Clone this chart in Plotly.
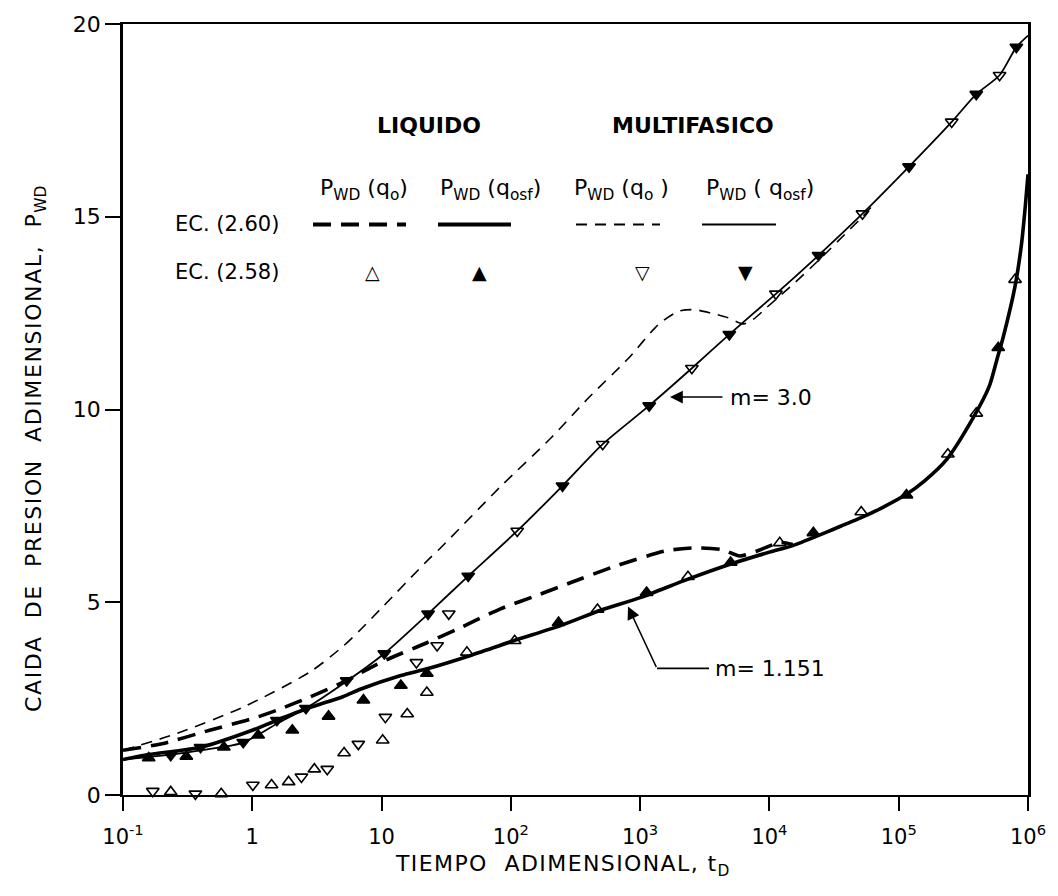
import plotly.graph_objects as go

# ---------------- data ----------------
# Curves, EC.(2.60)
liq_qo_t = [0.1, 0.2, 0.468, 1.0, 1.55, 2.82, 5.01, 10, 22.4, 40.7, 83.2, 166, 275,
            661, 1622, 2754, 4365, 5888, 8318, 12020, 15140]
liq_qo_p = [1.16, 1.33, 1.68, 1.98, 2.2, 2.55, 2.92, 3.45, 3.95, 4.34, 4.83, 5.2, 5.48,
            5.95, 6.34, 6.41, 6.36, 6.2, 6.35, 6.55, 6.5]

liq_qosf_t = [0.1, 0.158, 0.398, 1.0, 1.55, 2.69, 5.01, 6.92, 14.1, 22.9, 46.8, 105, 245,
              501, 1000, 2344, 4898, 10000, 15140, 31620, 50120, 74130, 114800, 158500,
              234400, 371500, 501200, 575400, 645700, 794300, 891300, 955000, 1000000]
liq_qosf_p = [0.92, 1.05, 1.24, 1.68, 1.94, 2.25, 2.55, 2.75, 3.1, 3.28, 3.6, 4.0, 4.4,
              4.8, 5.12, 5.6, 5.98, 6.3, 6.47, 6.9, 7.18, 7.45, 7.8, 8.15,
              8.7, 9.75, 10.6, 11.3, 11.9, 13.2, 14.3, 15.3, 16.1]

multi_qo_t = [0.1, 0.263, 0.851, 2.82, 5.01, 6.92, 10, 22.9, 28.8, 83.2, 204, 398,
              813, 1380, 1995, 2630, 3548, 4786, 6310, 7586, 9550, 15850, 24550, 39810,
              52480, 63100]
multi_qo_p = [1.16, 1.6, 2.28, 3.2, 3.85, 4.3, 4.85, 6.1, 6.42, 8.0, 9.26, 10.3,
              11.33, 12.2, 12.55, 12.59, 12.5, 12.38, 12.22, 12.35, 12.65, 13.3, 13.9, 14.6,
              15.0, 15.3]

multi_qosf_t = [0.1, 0.234, 0.398, 0.851, 1.55, 2.60, 5.37, 10.5, 22.9, 46.8, 112, 251, 513,
                1175, 2512, 4898, 11220, 23990, 52480, 120200, 257000, 398100, 602600,
                812800, 1000000]
multi_qosf_p = [0.92, 1.05, 1.16, 1.36, 1.85, 2.25, 2.95, 3.67, 4.7, 5.68, 6.85, 8.02, 9.1,
                10.1, 11.07, 11.95, 13.0, 14.0, 15.08, 16.3, 17.46, 18.18, 18.67,
                19.4, 19.7]

# Points, EC.(2.58)
liq_qo_mk_t = [0.234, 0.575, 1.41, 1.91, 3.02, 5.13, 10.2, 15.8, 22.4, 45.7, 107, 468,
               2344, 12020, 51290, 239900, 398100, 794300]
liq_qo_mk_p = [0.08, 0.03, 0.26, 0.34, 0.67, 1.09, 1.42, 2.1, 2.66, 3.7, 4.0, 4.81,
               5.66, 6.54, 7.34, 8.84, 9.9, 13.37]

liq_qosf_mk_t = [0.158, 0.309, 0.603, 1.11, 2.04, 3.89, 7.24, 14.1, 22.4, 234, 1122, 5012,
                 21880, 114800, 588800]
liq_qosf_mk_p = [0.96, 1.0, 1.24, 1.55, 1.68, 2.04, 2.46, 2.84, 3.15, 4.47, 5.25, 6.03,
                 6.8, 7.78, 11.6]

multi_qo_mk_t = [0.170, 0.363, 1.01, 2.40, 3.80, 6.61, 10.7, 18.6, 26.9, 33.1, 112, 513,
                 2512, 11220, 52480, 257000, 602600]
multi_qo_mk_p = [0.1, 0.03, 0.26, 0.47, 0.67, 1.32, 2.02, 3.44, 3.88, 4.7, 6.85, 9.1,
                 11.07, 13.0, 15.08, 17.46, 18.67]

multi_qosf_mk_t = [0.234, 0.398, 0.851, 1.55, 2.60, 5.37, 10.5, 22.9, 46.8, 251, 1175, 4898,
                   23990, 120200, 398100, 812800]
multi_qosf_mk_p = [1.03, 1.24, 1.37, 1.94, 2.25, 2.97, 3.67, 4.7, 5.68, 8.02, 10.1, 11.95,
                   14.0, 16.3, 18.18, 19.4]

x_tickvals = [0.1, 1, 10, 100, 1000, 10000, 100000, 1000000]
x_ticktext = ["10<sup>-1</sup>", "1", "10", "10<sup>2</sup>", "10<sup>3</sup>",
              "10<sup>4</sup>", "10<sup>5</sup>", "10<sup>6</sup>"]
y_tickvals = [0, 5, 10, 15, 20]
y_ticktext = ["0", "5", "10", "15", "20"]

# ---------------- figure ----------------
W, H = 1058, 896
L, R, T, B = 123, 30, 22, 101
PW, PH = W - L - R, H - T - B
FONT = "DejaVu Sans, Liberation Sans, sans-serif"


def px(x):
    return (x - L) / PW


def py(y):
    return (H - B - y) / PH


fig = go.Figure()

line_specs = [
    (liq_qo_t, liq_qo_p, 3.6, "18px,10px"),
    (liq_qosf_t, liq_qosf_p, 3.6, "solid"),
    (multi_qo_t, multi_qo_p, 1.6, "11px,8px"),
    (multi_qosf_t, multi_qosf_p, 1.8, "solid"),
]
for tx, py_, w, d in line_specs:
    fig.add_trace(go.Scatter(x=tx, y=py_, mode="lines",
                             line=dict(color="black", width=w, dash=d,
                                       shape="spline", smoothing=0.7),
                             hoverinfo="skip", showlegend=False))

mk_specs = [
    (liq_qo_mk_t, liq_qo_mk_p, "triangle-up-open"),
    (liq_qosf_mk_t, liq_qosf_mk_p, "triangle-up"),
    (multi_qo_mk_t, multi_qo_mk_p, "triangle-down-open"),
    (multi_qosf_mk_t, multi_qosf_mk_p, "triangle-down"),
]
for tx, py_, sym in mk_specs:
    fig.add_trace(go.Scatter(x=tx, y=py_, mode="markers", cliponaxis=False,
                             marker=dict(symbol=sym, size=11, color="black",
                                         line=dict(color="black", width=1.6)),
                             hoverinfo="skip", showlegend=False))

ann = []
# legend block
ann.append(dict(x=px(429), y=py(124), text="<b>LIQUIDO</b>", font=dict(size=22)))
ann.append(dict(x=px(693), y=py(124), text="<b>MULTIFASICO</b>", font=dict(size=22)))
for cx, txt in [(364, "P<sub>WD</sub> (q<sub>o</sub>)"),
                (490, "P<sub>WD</sub> (q<sub>osf</sub>)"),
                (621, "P<sub>WD</sub> (q<sub>o</sub> )"),
                (760, "P<sub>WD</sub> ( q<sub>osf</sub>)")]:
    ann.append(dict(x=px(cx), y=py(188), text=txt, font=dict(size=22)))
ann.append(dict(x=px(281), y=py(223), text="EC. (2.60)", xanchor="right", font=dict(size=21)))
ann.append(dict(x=px(281), y=py(271), text="EC. (2.58)", xanchor="right", font=dict(size=21)))
for cx, sym in [(372, "△"), (479, "▲"), (642, "▽"), (745, "▼")]:
    ann.append(dict(x=px(cx), y=py(271), text=sym, font=dict(size=19)))

# m annotations
ann.append(dict(x=px(670), y=py(396), ax=54, ay=0, axref="pixel", ayref="pixel",
                text="", showarrow=True, arrowhead=2, arrowsize=1.6, arrowwidth=1.6))
ann.append(dict(x=px(728), y=py(396), text="m= 3.0", xanchor="left", font=dict(size=22)))
ann.append(dict(x=px(628), y=py(606), ax=29, ay=62, axref="pixel", ayref="pixel",
                text="", showarrow=True, arrowhead=2, arrowsize=1.6, arrowwidth=1.6))
ann.append(dict(x=px(713), y=py(668), text="m= 1.151", xanchor="left", font=dict(size=22)))

# axis titles
ann.append(dict(x=px(36), y=py(448),
                text="<span style='letter-spacing:1.6px'>CAIDA  DE  PRESION  "
                     "ADIMENSIONAL,  P</span><sub>WD</sub>",
                textangle=-90, font=dict(size=22)))
ann.append(dict(x=px(562), y=py(866),
                text="<span style='letter-spacing:1.4px'>TIEMPO  ADIMENSIONAL, t</span>"
                     "<sub>D</sub>",
                font=dict(size=22)))

for a in ann:
    a.setdefault("xref", "paper")
    a.setdefault("yref", "paper")
    a.setdefault("xanchor", "center")
    a.setdefault("yanchor", "middle")
    a.setdefault("showarrow", False)
    a.setdefault("arrowcolor", "black")
    f = a.setdefault("font", {})
    f.setdefault("family", FONT)
    f["color"] = "black"

shapes = []
# legend line keys
shapes.append(dict(x0=px(313), x1=px(406), dash="18px,10px", width=4))
shapes.append(dict(x0=px(438), x1=px(511), dash="solid", width=4))
shapes.append(dict(x0=px(576), x1=px(660), dash="11px,8px", width=1.8))
shapes.append(dict(x0=px(702), x1=px(776), dash="solid", width=1.8))
shape_objs = []
for s in shapes:
    shape_objs.append(dict(type="line", xref="paper", yref="paper",
                           x0=s["x0"], x1=s["x1"], y0=py(223), y1=py(223),
                           line=dict(color="black", width=s["width"], dash=s["dash"])))
# m = 1.151 leader line
shape_objs.append(dict(type="line", xref="paper", yref="paper",
                       x0=px(657), x1=px(709), y0=py(668), y1=py(668),
                       line=dict(color="black", width=1.6)))

fig.update_layout(
    width=W, height=H,
    margin=dict(l=L, r=R, t=T, b=B),
    paper_bgcolor="white", plot_bgcolor="white",
    font=dict(family=FONT, color="black", size=20),
    annotations=ann, shapes=shape_objs,
    showlegend=False,
)
fig.update_xaxes(type="log", range=[-1, 6], tickvals=x_tickvals, ticktext=x_ticktext,
                 ticks="outside", ticklen=14, tickwidth=1.6, tickcolor="black",
                 showline=True, linecolor="black", linewidth=2.2, mirror=True,
                 showgrid=False, zeroline=False, tickfont=dict(size=21),
                 ticklabelstandoff=8)
fig.update_yaxes(range=[0, 20], tickvals=y_tickvals, ticktext=y_ticktext,
                 ticks="outside", ticklen=15, tickwidth=1.6, tickcolor="black",
                 showline=True, linecolor="black", linewidth=2.5, mirror=True,
                 showgrid=False, zeroline=False, tickfont=dict(size=22))

fig.write_html("out.html")
